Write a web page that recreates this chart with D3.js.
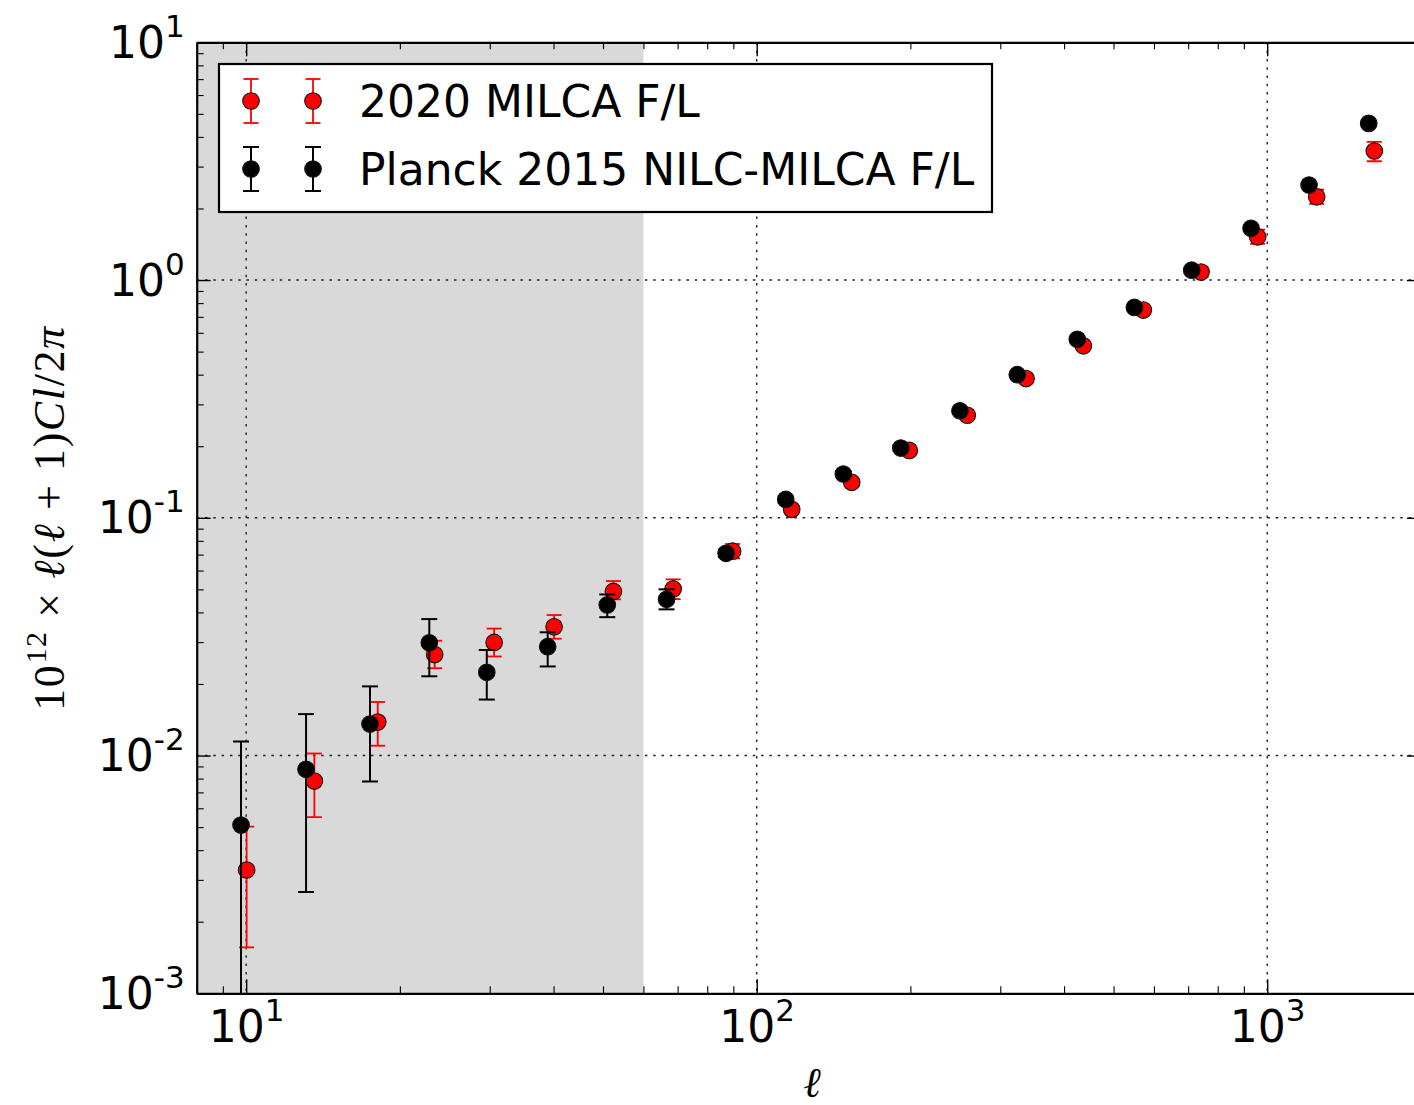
<!DOCTYPE html>
<html><head><meta charset="utf-8">
<script src="https://cdn.jsdelivr.net/npm/d3@7"></script>
<style>body{margin:0;background:#fff}svg{display:block}</style>
</head><body><svg id="c" width="1414" height="1105"></svg>
<script>
// ---- data ----
const seriesNames = ["2020 MILCA F/L", "Planck 2015 NILC-MILCA F/L"];
const ell2020 = [10.02, 13.6, 18.1, 23.4, 30.6, 40.1, 52.4, 68.6, 89.7, 117.1, 153.5, 199.0, 258.5, 337, 436.4, 571.9, 741.9, 957.8, 1250, 1621];
const cl2020  = [0.0033, 0.00781, 0.01383, 0.0266, 0.0299, 0.0348, 0.0490, 0.0502, 0.0724, 0.1085, 0.141, 0.192, 0.270, 0.385, 0.529, 0.748, 1.08, 1.52, 2.24, 3.49];
const lo2020  = [0.00156, 0.00551, 0.0110, 0.0233, 0.0261, 0.0310, 0.0454, 0.0455, 0.0675, 0.1045, 0.136, 0.185, 0.260, 0.371, 0.510, 0.721, 1.03, 1.42, 2.09, 3.16];
const hi2020  = [0.00502, 0.0102, 0.0168, 0.0304, 0.0342, 0.0390, 0.0542, 0.0551, 0.0776, 0.1125, 0.146, 0.199, 0.280, 0.399, 0.549, 0.776, 1.13, 1.63, 2.40, 3.81];

const ell2015 = [9.77, 13.1, 17.48, 22.84, 29.6, 38.96, 50.97, 66.6, 87.1, 114.0, 147.8, 191.5, 250.1, 323.9, 424.6, 549.3, 711.4, 929.7, 1207.5, 1580.5];
const cl2015  = [0.0051, 0.00875, 0.01357, 0.0298, 0.0224, 0.0287, 0.0430, 0.0454, 0.0709, 0.1195, 0.1528, 0.1965, 0.282, 0.400, 0.563, 0.767, 1.10, 1.65, 2.51, 4.56];
const lo2015  = [0.0003, 0.00267, 0.00778, 0.02155, 0.0172, 0.0237, 0.0382, 0.0412, 0.0685, 0.116, 0.149, 0.192, 0.277, 0.394, 0.556, 0.759, 1.09, 1.635, 2.49, 4.52];
const hi2015  = [0.01145, 0.01494, 0.01954, 0.0375, 0.0278, 0.0330, 0.0476, 0.0500, 0.0735, 0.123, 0.157, 0.201, 0.287, 0.406, 0.570, 0.775, 1.11, 1.665, 2.53, 4.60];

const xMajor = [10, 100, 1000];
const xMajorExp = ["1", "2", "3"];
const yMajor = [1e-3, 1e-2, 1e-1, 1, 10];
const yMajorExp = ["-3", "-2", "-1", "0", "1"];
const shadeRange = [8, 60];
const xDomain = [8, 2000];
const yDomain = [1e-3, 10];

// ---- layout ----
const L = 196.7, R = 1420.9, T = 42.3, B = 993.3;
const svg = d3.select("#c");
const x = d3.scaleLog().domain(xDomain).range([L, R]);
const y = d3.scaleLog().domain(yDomain).range([B, T]);

const xMinor = [], yMinor = [];
for (let d = 1; d <= 1000; d *= 10) for (let k = 2; k <= 9; k++) { const v = k * d; if (v >= xDomain[0] && v <= xDomain[1]) xMinor.push(v); }
for (let d = 1e-3; d < 10; d *= 10) for (let k = 2; k <= 9; k++) yMinor.push(k * d);

svg.append("defs").append("clipPath").attr("id", "clip")
  .append("rect").attr("x", L).attr("y", T).attr("width", R - L).attr("height", B - T);

// shaded region
svg.append("rect").attr("x", x(shadeRange[0])).attr("y", T)
  .attr("width", x(shadeRange[1]) - x(shadeRange[0])).attr("height", B - T)
  .attr("fill", "#d9d9d9");

// grid
const grid = svg.append("g").attr("stroke", "#222").attr("stroke-width", 1.4).attr("stroke-dasharray", "2.5,5.8");
grid.selectAll(".gx").data(xMajor).join("line")
  .attr("x1", d => x(d)).attr("x2", d => x(d)).attr("y1", T).attr("y2", B);
grid.selectAll(".gy").data(yMajor.filter(v => v > 1e-3 && v < 10)).join("line")
  .attr("y1", d => y(d)).attr("y2", d => y(d)).attr("x1", L).attr("x2", R);

// data
const plot = svg.append("g").attr("clip-path", "url(#clip)");
function drawSeries(ell, val, lo, hi, color, cap, lw) {
  const g = plot.append("g");
  const idx = d3.range(ell.length);
  g.selectAll(".eb").data(idx).join("line")
    .attr("x1", i => x(ell[i])).attr("x2", i => x(ell[i]))
    .attr("y1", i => y(lo[i])).attr("y2", i => y(hi[i]))
    .attr("stroke", color).attr("stroke-width", lw);
  g.selectAll(".capl").data(idx).join("line")
    .attr("x1", i => x(ell[i]) - cap).attr("x2", i => x(ell[i]) + cap)
    .attr("y1", i => y(lo[i])).attr("y2", i => y(lo[i]))
    .attr("stroke", color).attr("stroke-width", lw);
  g.selectAll(".caph").data(idx).join("line")
    .attr("x1", i => x(ell[i]) - cap).attr("x2", i => x(ell[i]) + cap)
    .attr("y1", i => y(hi[i])).attr("y2", i => y(hi[i]))
    .attr("stroke", color).attr("stroke-width", lw);
  g.selectAll("circle").data(idx).join("circle")
    .attr("cx", i => x(ell[i])).attr("cy", i => y(val[i])).attr("r", 8.3)
    .attr("fill", color).attr("stroke", "#111").attr("stroke-width", 1.1);
}
drawSeries(ell2020, cl2020, lo2020, hi2020, "#ff0000", 7.5, 1.8);
drawSeries(ell2015, cl2015, lo2015, hi2015, "#000000", 8, 2);

// axes
const font = "'DejaVu Sans', sans-serif";
function styleAxis(g) {
  g.select(".domain").attr("stroke", "#000").attr("stroke-width", 2.2);
  g.selectAll(".tick line").attr("stroke", "#000").attr("stroke-width", 1.4);
}
const xb = svg.append("g").attr("transform", `translate(0,${B})`)
  .call(d3.axisBottom(x).tickValues(xMajor).tickSize(-14).tickSizeOuter(0).tickFormat(""));
svg.append("g").attr("transform", `translate(0,${B})`)
  .call(d3.axisBottom(x).tickValues(xMinor).tickSize(-7).tickSizeOuter(0).tickFormat(""))
  .call(g => { g.select(".domain").remove(); g.selectAll(".tick line").attr("stroke", "#000").attr("stroke-width", 1.1); });
const xt = svg.append("g").attr("transform", `translate(0,${T})`)
  .call(d3.axisTop(x).tickValues(xMajor).tickSize(-14).tickSizeOuter(0).tickFormat(""));
svg.append("g").attr("transform", `translate(0,${T})`)
  .call(d3.axisTop(x).tickValues(xMinor).tickSize(-7).tickSizeOuter(0).tickFormat(""))
  .call(g => { g.select(".domain").remove(); g.selectAll(".tick line").attr("stroke", "#000").attr("stroke-width", 1.1); });
const yl = svg.append("g").attr("transform", `translate(${L},0)`)
  .call(d3.axisLeft(y).tickValues(yMajor).tickSize(-14).tickSizeOuter(0).tickFormat(""));
svg.append("g").attr("transform", `translate(${L},0)`)
  .call(d3.axisLeft(y).tickValues(yMinor).tickSize(-7).tickSizeOuter(0).tickFormat(""))
  .call(g => { g.select(".domain").remove(); g.selectAll(".tick line").attr("stroke", "#000").attr("stroke-width", 1.1); });
const yr = svg.append("g").attr("transform", `translate(${R},0)`)
  .call(d3.axisRight(y).tickValues(yMajor).tickSize(-14).tickSizeOuter(0).tickFormat(""));
[xb, xt, yl, yr].forEach(styleAxis);

// tick labels with superscripts
xb.selectAll(".tick").each(function(d, i) {
  const t = d3.select(this).append("text").attr("y", 49).attr("text-anchor", "middle")
    .attr("fill", "#000").style("font-family", font).style("font-size", "44px");
  t.append("tspan").text("10");
  t.append("tspan").attr("dy", -21).style("font-size", "31px").text(xMajorExp[i]);
});
yl.selectAll(".tick").each(function(d, i) {
  const t = d3.select(this).append("text").attr("x", -12).attr("y", 15).attr("text-anchor", "end")
    .attr("fill", "#000").style("font-family", font).style("font-size", "44px");
  t.append("tspan").text("10");
  t.append("tspan").attr("dy", -21).style("font-size", "31px").text(yMajorExp[i]);
});

// axis titles
const serif = "'Liberation Serif', 'DejaVu Serif', serif";
const ylab = svg.append("text").attr("transform", "translate(64,518) rotate(-90)")
  .attr("text-anchor", "middle").attr("fill", "#000")
  .style("font-family", serif).style("font-size", "44px").style("letter-spacing", "1.6px");
ylab.append("tspan").text("10");
ylab.append("tspan").attr("dy", -18).style("font-size", "30px").text("12");
ylab.append("tspan").attr("dy", 18).text(" × ");
ylab.append("tspan").style("font-style", "italic").text("ℓ");
ylab.append("tspan").text("(");
ylab.append("tspan").style("font-style", "italic").text("ℓ");
ylab.append("tspan").text(" + 1)");
ylab.append("tspan").style("font-style", "italic").text("Cl");
ylab.append("tspan").text("/2");
ylab.append("tspan").style("font-style", "italic").text("π");

svg.append("text").attr("x", 812).attr("y", 1097).attr("text-anchor", "middle")
  .attr("fill", "#000").style("font-family", serif).style("font-style", "italic")
  .style("font-size", "42px").text("ℓ");

// legend
const leg = svg.append("g");
leg.append("rect").attr("x", 219).attr("y", 64).attr("width", 773).attr("height", 148)
  .attr("fill", "#fff").attr("stroke", "#000").attr("stroke-width", 2.2);
const legRows = [
  { name: seriesNames[0], color: "#ff0000", yy: 101, cap: 7.5, lw: 1.8 },
  { name: seriesNames[1], color: "#000000", yy: 169, cap: 8, lw: 2 }
];
legRows.forEach(r => {
  [251, 313].forEach(cx => {
    leg.append("line").attr("x1", cx).attr("x2", cx).attr("y1", r.yy - 22).attr("y2", r.yy + 22)
      .attr("stroke", r.color).attr("stroke-width", r.lw);
    [-22, 22].forEach(o => leg.append("line").attr("x1", cx - r.cap).attr("x2", cx + r.cap)
      .attr("y1", r.yy + o).attr("y2", r.yy + o).attr("stroke", r.color).attr("stroke-width", r.lw));
    leg.append("circle").attr("cx", cx).attr("cy", r.yy).attr("r", 8.3)
      .attr("fill", r.color).attr("stroke", "#111").attr("stroke-width", 1.1);
  });
  leg.append("text").attr("x", 359).attr("y", r.yy + 16).attr("fill", "#000")
    .style("font-family", font).style("font-size", "44px").text(r.name);
});
</script></body></html>
